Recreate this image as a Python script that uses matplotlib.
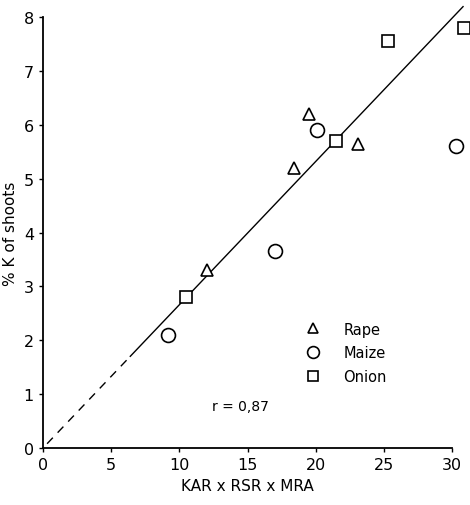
import numpy as np
import matplotlib.pyplot as plt

# data
rape_x = [12.0, 18.4, 19.5, 23.1]
rape_y = [3.3, 5.2, 6.2, 5.65]
maize_x = [9.2, 17.0, 20.1, 30.3]
maize_y = [2.1, 3.65, 5.9, 5.6]
onion_x = [10.5, 21.5, 25.3, 30.9]
onion_y = [2.8, 5.7, 7.55, 7.8]

slope = 0.266          # fitted line through origin
r_value = "0,87"
x_ticks = [0, 5, 10, 15, 20, 25, 30]
y_ticks = [0, 1, 2, 3, 4, 5, 6, 7, 8]

fig = plt.figure(figsize=(4.7, 5.06), dpi=100)
ax = fig.add_axes([0.0915, 0.1126, 0.8705, 0.8518])

mk = dict(linestyle="none", markerfacecolor="white", markeredgecolor="black",
          markeredgewidth=1.2, clip_on=False, zorder=3)
ax.plot(rape_x, rape_y, marker="^", markersize=9, label="Rape", **mk)
ax.plot(maize_x, maize_y, marker="o", markersize=10, label="Maize", **mk)
ax.plot(onion_x, onion_y, marker="s", markersize=9, label="Onion", **mk)

# regression line: dashed near origin, solid over the data range
xd = np.array([0.3, 6.4])
xs = np.array([6.4, 30.8])
ax.plot(xd, slope * xd, color="black", lw=1.0, ls=(0, (6, 5)), clip_on=False)
ax.plot(xs, slope * xs, color="black", lw=1.0, clip_on=False)

ax.text(12.4, 0.78, "r = " + r_value, fontsize=10, va="center")

ax.set_xlim(0, 30)
ax.set_ylim(0, 8)
ax.set_xticks(x_ticks)
ax.set_yticks(y_ticks)
ax.tick_params(labelsize=11.5, length=3, width=1, direction="out")
for s in ["top", "right"]:
    ax.spines[s].set_visible(False)
for s in ["left", "bottom"]:
    ax.spines[s].set_linewidth(1.3)

ax.set_xlabel("KAR x RSR x MRA", fontsize=11, labelpad=4)
ax.set_ylabel("% K of shoots", fontsize=11, labelpad=4)

ax.legend(loc="lower left", bbox_to_anchor=(0.61, 0.118), frameon=False,
          fontsize=10.5, handletextpad=1.6, labelspacing=0.6, handlelength=1.0,
          markerscale=0.85)

fig.savefig("out.png", dpi=100)
